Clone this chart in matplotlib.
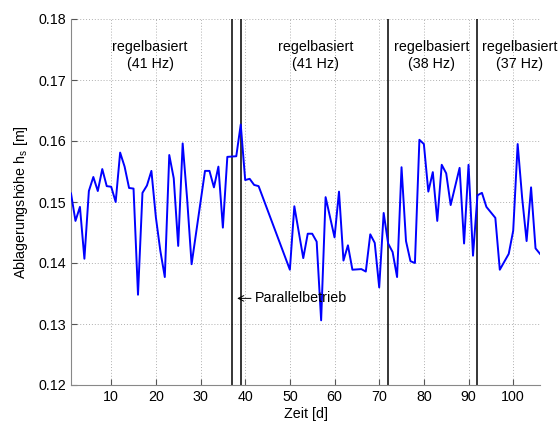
import matplotlib
matplotlib.use("Agg")
import matplotlib.pyplot as plt

plt.rcParams['font.family'] = ['Liberation Sans', 'DejaVu Sans']
plt.rcParams['mathtext.fontset'] = 'custom'
plt.rcParams['mathtext.rm'] = 'Liberation Sans'
plt.rcParams['mathtext.it'] = 'Liberation Sans:italic'

days = [1, 2, 3, 4, 5, 6, 7, 8, 9, 10, 11, 12, 13, 14, 15, 16, 17, 18, 19, 20,
        21, 22, 23, 24, 25, 26, 27, 28, 31, 32, 33, 34, 35, 36, 38, 39, 40, 41, 42, 43,
        50, 51, 53, 54, 55, 56, 57, 58, 60, 61, 62, 63, 64, 66, 67, 68, 69, 70,
        71, 72, 73, 74, 75, 76, 77, 78, 79, 80, 81, 82, 83, 84, 85, 86, 88, 89,
        90, 91, 92, 93, 94, 96, 97, 99, 100, 101, 102, 103, 104, 105, 106]
hs = [0.1514, 0.1469, 0.1492, 0.1407, 0.1518, 0.1541, 0.1518, 0.1554, 0.1526, 0.1525,
      0.1500, 0.1581, 0.1558, 0.1523, 0.1522, 0.1348, 0.1515, 0.1527, 0.1551, 0.1475,
      0.1420, 0.1377, 0.1577, 0.1539, 0.1428, 0.1596, 0.1505, 0.1398, 0.1551, 0.1551,
      0.1524, 0.1558, 0.1458, 0.1574, 0.1575, 0.1627, 0.1536, 0.1538, 0.1528, 0.1526,
      0.1389, 0.1493, 0.1408, 0.1448, 0.1448, 0.1435, 0.1306, 0.1508, 0.1442, 0.1517,
      0.1404, 0.1429, 0.1389, 0.1390, 0.1386, 0.1447, 0.1433, 0.1360,
      0.1482, 0.1432, 0.1418, 0.1377, 0.1557, 0.1436, 0.1403, 0.1400, 0.1602, 0.1595,
      0.1517, 0.1549, 0.1469, 0.1561, 0.1547, 0.1495, 0.1556, 0.1432,
      0.1561, 0.1412, 0.1511, 0.1515, 0.1492, 0.1474, 0.1389, 0.1415, 0.1453, 0.1595,
      0.1507, 0.1436, 0.1524, 0.1424, 0.1415]

switch_days = [37, 39, 72, 92]
region_labels = ['regelbasiert\n(41 Hz)', 'regelbasiert\n(41 Hz)',
                 'regelbasiert\n(38 Hz)', 'regelbasiert\n(37 Hz)']
region_x = [18.7, 55.8, 81.8, 101.5]
xticks = [10, 20, 30, 40, 50, 60, 70, 80, 90, 100]
yticks = [0.12, 0.13, 0.14, 0.15, 0.16, 0.17, 0.18]

fig = plt.figure(figsize=(5.58, 4.25), dpi=100)
ax = fig.add_axes([71 / 558, 40 / 425, (540 - 71) / 558, (385 - 19) / 425])

ax.plot(days, hs, color=(0, 0, 1), lw=1.4, zorder=3)
for d in switch_days:
    ax.axvline(d, color='black', lw=1.1, zorder=2)

ax.set_xlim(1, 106)
ax.set_ylim(0.12, 0.18)
ax.set_xticks(xticks)
ax.set_yticks(yticks)
ax.set_yticklabels([f'{v:.2f}' for v in yticks])
ax.grid(True, linestyle=(0, (1, 2)), color='#b0b0b0', lw=0.7)
ax.tick_params(direction='in', length=4, labelsize=10.3, color='#555555')
for s in ['top', 'right']:
    ax.spines[s].set_visible(False)
for s in ['left', 'bottom']:
    ax.spines[s].set_color('#888888')
    ax.spines[s].set_linewidth(0.8)

for x, t in zip(region_x, region_labels):
    ax.text(x, 0.1740, t, ha='center', va='center', fontsize=10.3,
            linespacing=1.25, clip_on=False)

ax.annotate('', xy=(38.2, 0.1342), xytext=(41.3, 0.1342),
            arrowprops=dict(arrowstyle='->', color='black', lw=0.7,
                            shrinkA=0, shrinkB=0))
ax.text(42.2, 0.1342, 'Parallelbetrieb', ha='left', va='center', fontsize=10.3)

ax.set_xlabel('Zeit [d]', fontsize=10.3, labelpad=2)
ax.set_ylabel('Ablagerungshöhe h$_\\mathrm{s}$ [m]', fontsize=10.3, labelpad=6)

fig.savefig('out.png', dpi=100)
